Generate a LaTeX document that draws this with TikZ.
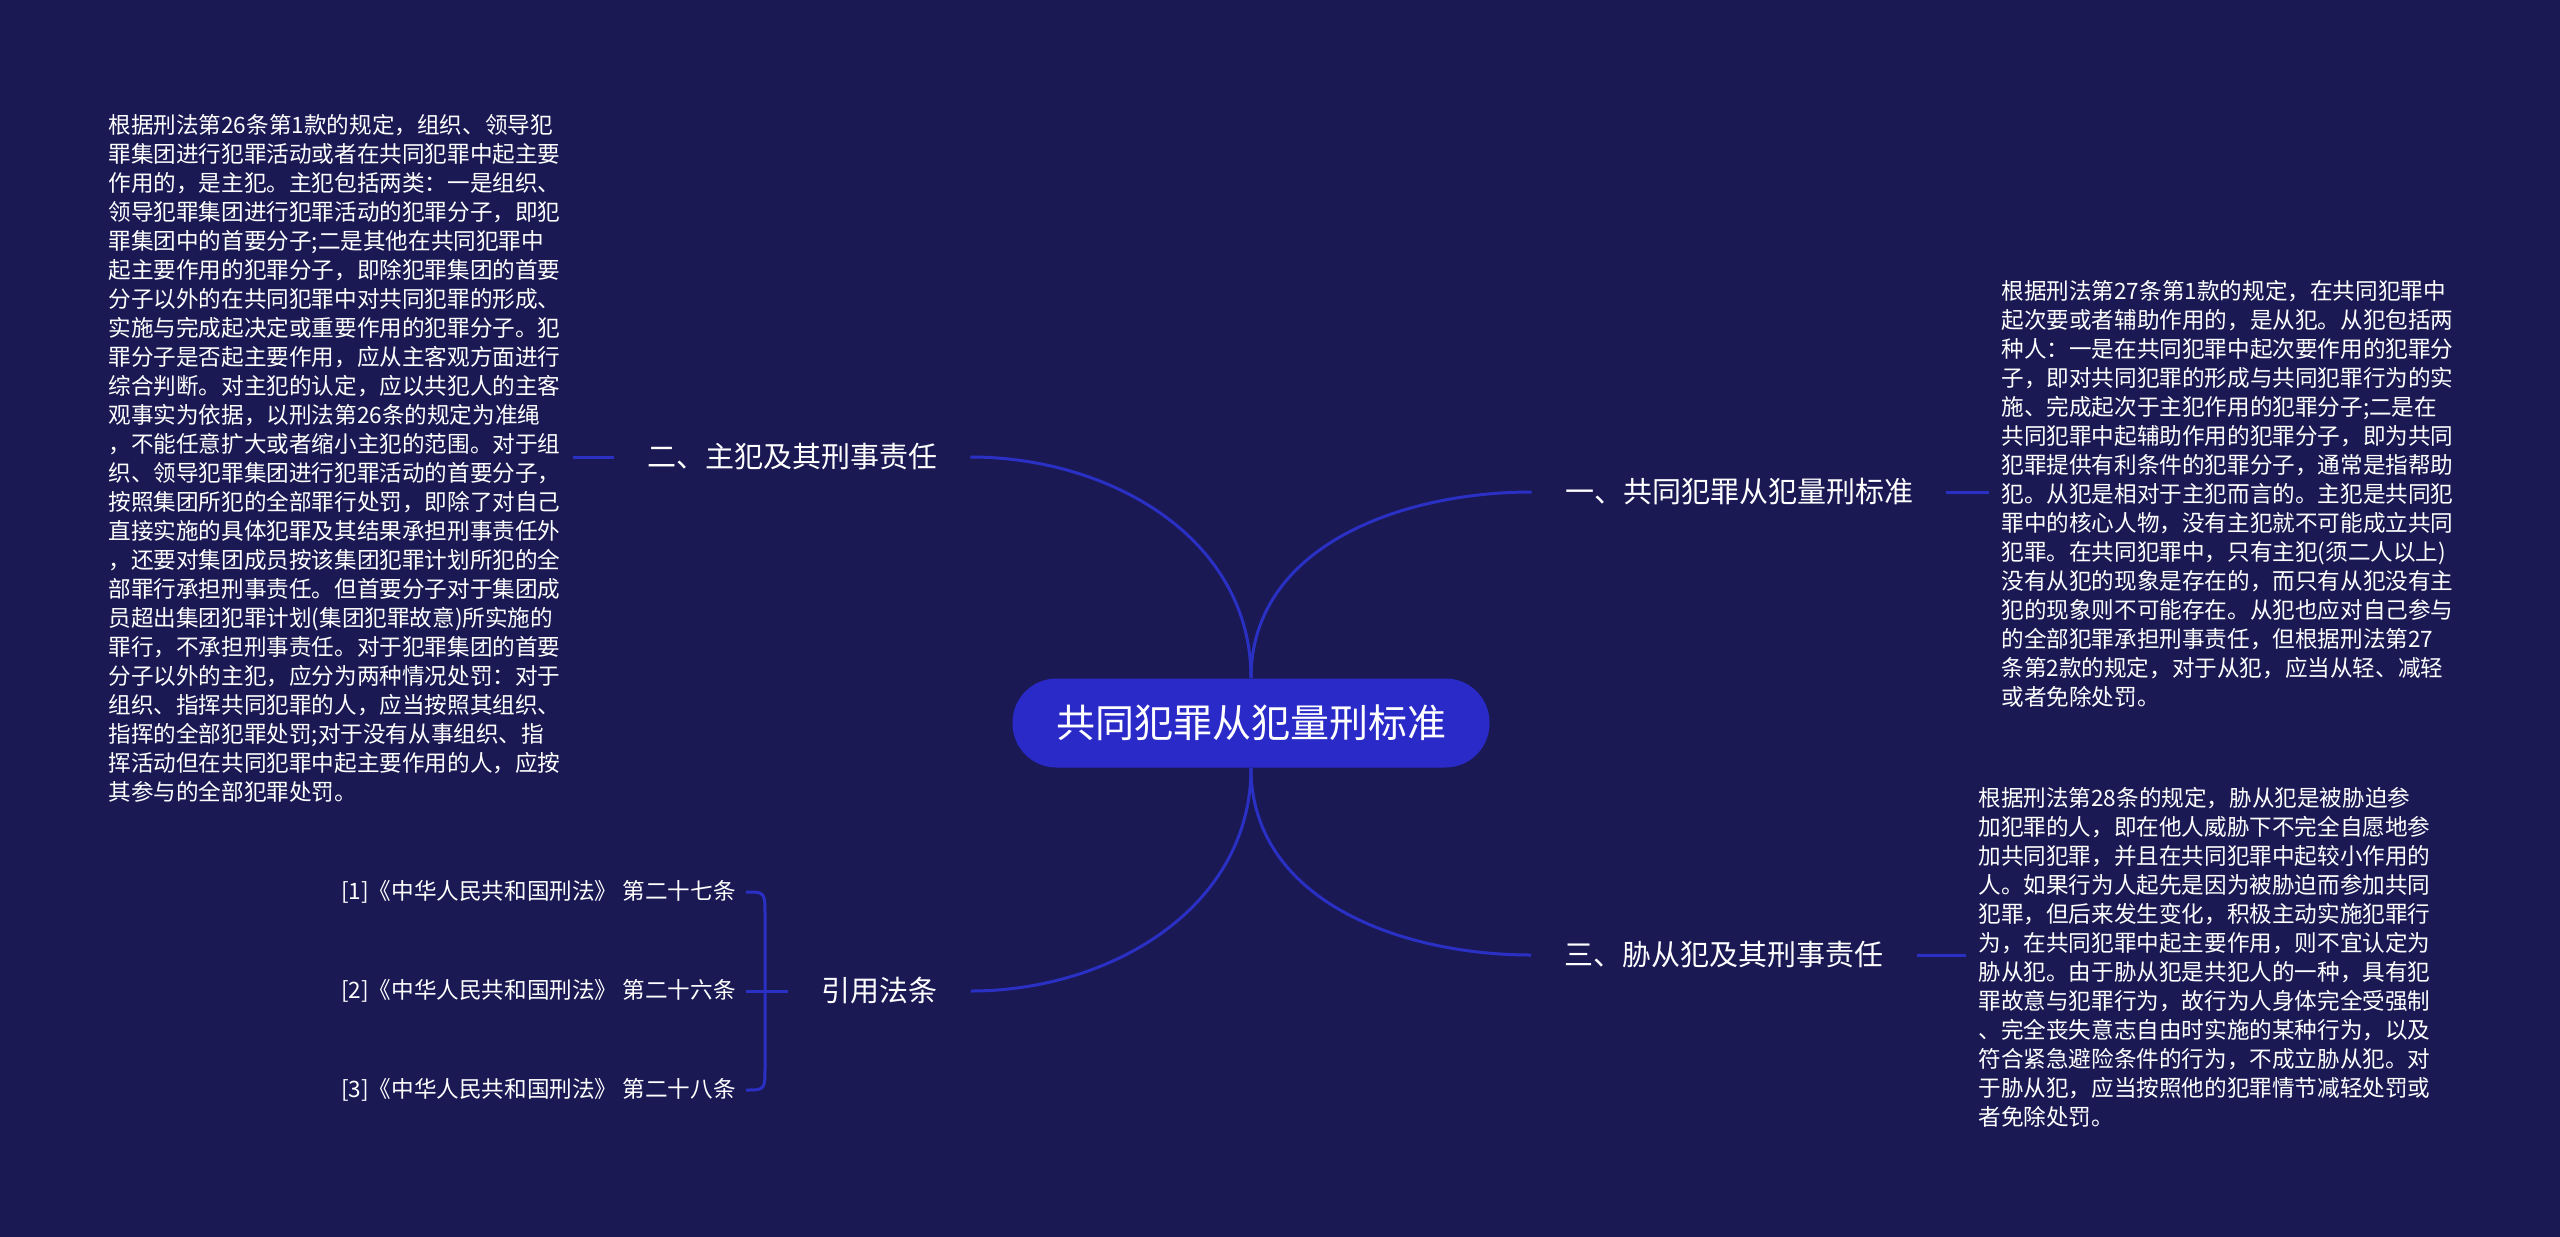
\documentclass[tikz,border=0pt]{standalone}
\usepackage{fontspec}
\setmainfont{Noto Sans CJK SC}
\usepackage{tikz}
\usetikzlibrary{calc}
\definecolor{bgnavy}{RGB}{26,25,84}
\definecolor{hubblue}{RGB}{42,42,200}
\definecolor{linkblue}{RGB}{43,48,196}

\begin{document}
\begin{tikzpicture}[x=0.5pt,y=-0.5pt,
  link/.style={line width=1.5pt,linkblue},
  branch/.style={text=white,font=\fontsize{14.5pt}{17pt}\selectfont,inner xsep=16.5pt,inner ysep=0pt},
  note/.style={text=white,font=\fontsize{11.3pt}{14.5pt}\selectfont,align=left,inner xsep=6pt,inner ysep=0pt},
  cite/.style={text=white,font=\fontsize{11.3pt}{14pt}\selectfont,inner xsep=5pt,inner ysep=0pt,anchor=east}]
  \fill[bgnavy] (0,0) rectangle (2560,1237);
  \useasboundingbox (0,0) rectangle (2560,1237);
  % centre and branches
  \node[fill=hubblue,text=white,rounded corners=22pt,minimum width=238.5pt,minimum height=44.5pt,
    font=\fontsize{19.5pt}{22pt}\selectfont] (root) at (1251,723) {共同犯罪从犯量刑标准};
  \node[branch] (b1) at (1739,492) {一、共同犯罪从犯量刑标准};
  \node[branch] (b2) at (792,457) {二、主犯及其刑事责任};
  \node[branch] (b3) at (1724,955) {三、胁从犯及其刑事责任};
  \node[branch] (b4) at (879.5,991) {引用法条};
  % text blocks
  \node[note,anchor=west] (t1) at (1989,494) {根据刑法第27条第1款的规定，在共同犯罪中\\起次要或者辅助作用的，是从犯。从犯包括两\\种人：一是在共同犯罪中起次要作用的犯罪分\\子，即对共同犯罪的形成与共同犯罪行为的实\\施、完成起次于主犯作用的犯罪分子;二是在\\共同犯罪中起辅助作用的犯罪分子，即为共同\\犯罪提供有利条件的犯罪分子，通常是指帮助\\犯。从犯是相对于主犯而言的。主犯是共同犯\\罪中的核心人物，没有主犯就不可能成立共同\\犯罪。在共同犯罪中，只有主犯(须二人以上)\\没有从犯的现象是存在的，而只有从犯没有主\\犯的现象则不可能存在。从犯也应对自己参与\\的全部犯罪承担刑事责任，但根据刑法第27\\条第2款的规定，对于从犯，应当从轻、减轻\\或者免除处罚。};
  \node[note,anchor=west] (t2) at (96,458) {根据刑法第26条第1款的规定，组织、领导犯\\罪集团进行犯罪活动或者在共同犯罪中起主要\\作用的，是主犯。主犯包括两类：一是组织、\\领导犯罪集团进行犯罪活动的犯罪分子，即犯\\罪集团中的首要分子;二是其他在共同犯罪中\\起主要作用的犯罪分子，即除犯罪集团的首要\\分子以外的在共同犯罪中对共同犯罪的形成、\\实施与完成起决定或重要作用的犯罪分子。犯\\罪分子是否起主要作用，应从主客观方面进行\\综合判断。对主犯的认定，应以共犯人的主客\\观事实为依据，以刑法第26条的规定为准绳\\，不能任意扩大或者缩小主犯的范围。对于组\\织、领导犯罪集团进行犯罪活动的首要分子，\\按照集团所犯的全部罪行处罚，即除了对自己\\直接实施的具体犯罪及其结果承担刑事责任外\\，还要对集团成员按该集团犯罪计划所犯的全\\部罪行承担刑事责任。但首要分子对于集团成\\员超出集团犯罪计划(集团犯罪故意)所实施的\\罪行，不承担刑事责任。对于犯罪集团的首要\\分子以外的主犯，应分为两种情况处罚：对于\\组织、指挥共同犯罪的人，应当按照其组织、\\指挥的全部犯罪处罚;对于没有从事组织、指\\挥活动但在共同犯罪中起主要作用的人，应按\\其参与的全部犯罪处罚。};
  \node[note,anchor=west] (t3) at (1966,957) {根据刑法第28条的规定，胁从犯是被胁迫参\\加犯罪的人，即在他人威胁下不完全自愿地参\\加共同犯罪，并且在共同犯罪中起较小作用的\\人。如果行为人起先是因为被胁迫而参加共同\\犯罪，但后来发生变化，积极主动实施犯罪行\\为，在共同犯罪中起主要作用，则不宜认定为\\胁从犯。由于胁从犯是共犯人的一种，具有犯\\罪故意与犯罪行为，故行为人身体完全受强制\\、完全丧失意志自由时实施的某种行为，以及\\符合紧急避险条件的行为，不成立胁从犯。对\\于胁从犯，应当按照他的犯罪情节减轻处罚或\\者免除处罚。};
  % cited articles
  \node[cite] (r1) at (746,892) {[1]《中华人民共和国刑法》 第二十七条};
  \node[cite] (r2) at (746,991) {[2]《中华人民共和国刑法》 第二十六条};
  \node[cite] (r3) at (746,1090) {[3]《中华人民共和国刑法》 第二十八条};
  \coordinate (spine) at (765,991);
  % connectors
  \draw[link] (root.north) to[out=90,in=180] (b1.west);
  \draw[link] (root.north) to[out=90,in=0] (b2.east);
  \draw[link] (root.south) to[out=-90,in=180] (b3.west);
  \draw[link] (root.south) to[out=-90,in=0] (b4.east);
  \draw[link] (b1.east) -- (b1.east -| t1.west);
  \draw[link] (b3.east) -- (b3.east -| t3.west);
  \draw[link] (b2.west) -- (b2.west -| t2.east);
  \draw[link] (r1.east) .. controls (r1.east -| spine) .. ($(r1.east -| spine)+(0,24)$)
    -- ($(r3.east -| spine)+(0,-24)$) .. controls (r3.east -| spine) .. (r3.east);
  \draw[link] (r2.east) -- (b4.west);
\end{tikzpicture}
\end{document}
